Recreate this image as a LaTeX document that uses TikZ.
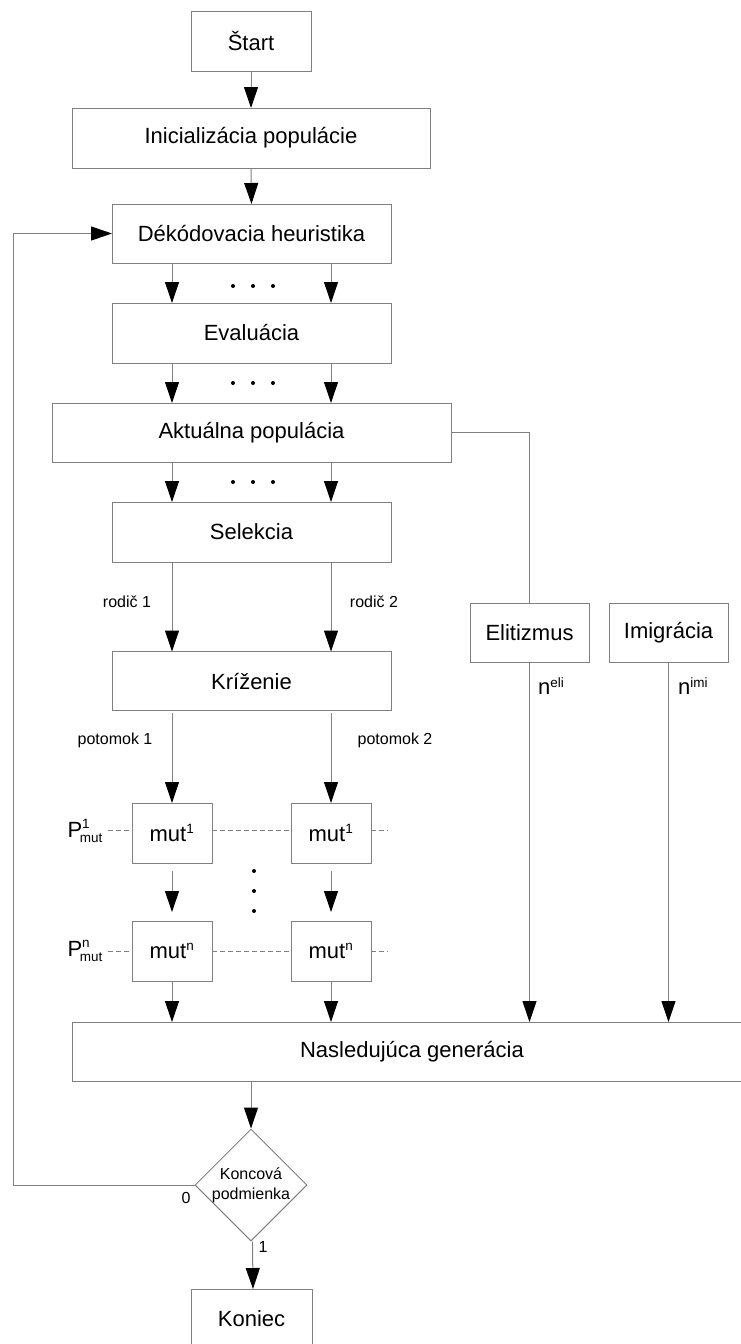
\documentclass[tikz,border=0pt]{standalone}
\usepackage{fontspec}
\usepackage{amsmath}
\setmainfont{Liberation Sans}
\usetikzlibrary{arrows.meta,shapes.geometric}
\definecolor{lg}{RGB}{128,128,128}
\tikzset{
 box/.style={draw=lg,line width=1pt,rectangle,inner sep=0pt,outer sep=0pt,font=\fontsize{22}{26}\selectfont},
 arr/.style={draw=lg,line width=1pt,-{Triangle[length=21pt,width=14pt,color=black]}},
 ln/.style={draw=lg,line width=1pt},
 dsh/.style={draw=lg,line width=1pt,dash pattern=on 5pt off 3pt},
 lbl/.style={font=\fontsize{16}{20}\selectfont,inner sep=0pt},
 big/.style={font=\fontsize{22}{26}\selectfont,inner sep=0pt},
 dotc/.style={fill=black}
}
\newcommand{\smallt}[1]{\text{\fontsize{13.5}{14}\selectfont #1}}
\begin{document}
\begin{tikzpicture}[x=1pt,y=-1pt]
\useasboundingbox (0,0) rectangle (740,1344);
% boxes
\node[box,minimum width=120pt,minimum height=60pt] (start) at (251,41) {Štart};
\node[box,minimum width=358pt,minimum height=60pt] (init) at (251,138) {Inicializácia populácie};
\node[box,minimum width=279pt,minimum height=59pt] (dek) at (251.5,233.5) {Dékódovacia heuristika};
\node[box,minimum width=279pt,minimum height=60pt] (eval) at (251.5,333) {Evaluácia};
\node[box,minimum width=399pt,minimum height=59pt] (akt) at (251.5,432.5) {Aktuálna populácia};
\node[box,minimum width=279pt,minimum height=60pt] (sel) at (251.5,532) {Selekcia};
\node[box,minimum width=279pt,minimum height=59pt] (kriz) at (251.5,681) {Kríženie};
\node[box,minimum width=119pt,minimum height=59pt] (eli) at (529.5,632.5) {Elitizmus};
\node[box,minimum width=119pt,minimum height=59pt] (imi) at (668.5,632.5) {Imigrácia};
\node[box,minimum width=80pt,minimum height=60pt] (m11) at (172,833) {mut$^{\smallt{1}}$};
\node[box,minimum width=80pt,minimum height=60pt] (m12) at (331,833) {mut$^{\smallt{1}}$};
\node[box,minimum width=80pt,minimum height=60pt] (mn1) at (172,951) {mut$^{\smallt{n}}$};
\node[box,minimum width=80pt,minimum height=60pt] (mn2) at (331,951) {mut$^{\smallt{n}}$};
\node[box,minimum width=680pt,minimum height=59pt] (next) at (412,1051.5) {Nasledujúca generácia};
\node[diamond,draw=lg,line width=1pt,minimum width=112pt,minimum height=112pt,inner sep=0pt] (cond) at (251,1185) {};
\node[lbl,align=center] (condt) at (cond.center) {Koncová\\podmienka};
\node[box,minimum width=121pt,minimum height=60pt] (end) at (251.5,1319) {Koniec};
% main flow arrows
\draw[arr] (start.south) -- (init.north);
\draw[arr] (init.south) -- (dek.north);
\foreach \a/\b in {dek/eval,eval/akt,akt/sel,sel/kriz}{
  \draw[arr] (\a.south -| m11.center) -- (\b.north -| m11.center);
  \draw[arr] (\a.south -| m12.center) -- (\b.north -| m12.center);
}
\draw[arr] ([yshift=-2pt]kriz.south -| m11.center) -- (m11.north);
\draw[arr] ([yshift=-2pt]kriz.south -| m12.center) -- (m12.north);
\draw[arr] ([yshift=-8pt]m11.south) -- ([yshift=9pt]mn1.north);
\draw[arr] ([yshift=-8pt]m12.south) -- ([yshift=9pt]mn2.north);
\draw[arr] (mn1.south) -- (mn1.south |- next.north);
\draw[arr] (mn2.south) -- (mn2.south |- next.north);
\draw[ln] (akt.east) -- (eli.north |- akt.east) -- (eli.north);
\draw[arr] (eli.south) -- (eli.south |- next.north);
\draw[arr] (imi.south) -- (imi.south |- next.north);
\draw[arr] (next.south -| cond.north) -- (cond.north);
\draw[arr] ([xshift=1.5pt]cond.south) -- ([xshift=1.5pt]end.north);
\coordinate (lp) at (13,0);
\draw[arr] (cond.west) -- (cond.west -| lp) -- (dek.west -| lp) -- (dek.west);
% dots
\foreach \y in {286,383,482}{
  \foreach \x in {233,253,273}{ \fill[dotc] (\x,\y) circle (2pt); }
}
\foreach \y in {871,891,911}{ \fill[dotc] (254,\y) circle (2pt); }
% dashed probability lines
\draw[dsh] (108,830) -- (132,830);
\draw[dsh] (212,830) -- (291,830);
\draw[dsh] (371,830) -- (388,830);
\draw[dsh] (108,951) -- (132,951);
\draw[dsh] (212,951) -- (291,951);
\draw[dsh] (371,951) -- (388,951);
% labels
\node[big,anchor=east] (p1) at (103,831) {$\text{P}_{\!\smallt{mut}}^{\smallt{1}}$};
\node[big,anchor=east] (pn) at (103,951) {$\text{P}_{\!\smallt{mut}}^{\smallt{n}}$};
\node[lbl] (r1) at (127,602) {rodič 1};
\node[lbl] (r2) at (374,602) {rodič 2};
\node[lbl] (o1) at (115,740) {potomok 1};
\node[lbl] (o2) at (395,740) {potomok 2};
\node[big,anchor=west] (ne) at (538,686) {n$^{\smallt{eli}}$};
\node[big,anchor=west] (ni) at (678,686) {n$^{\smallt{imi}}$};
\node[lbl] (l0) at (186,1198) {0};
\node[lbl] (l1) at (263,1247) {1};
\end{tikzpicture}
\end{document}
